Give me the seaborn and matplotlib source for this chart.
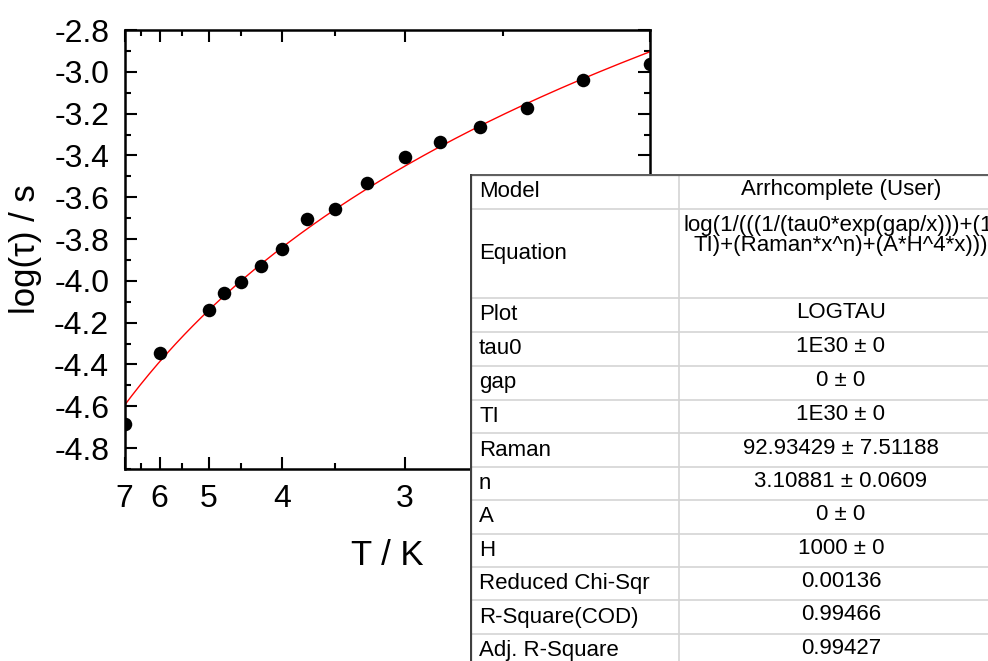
import numpy as np
import pandas as pd
import matplotlib
matplotlib.use("Agg")
import matplotlib.pyplot as plt
import seaborn as sns
from matplotlib.ticker import FixedLocator, MultipleLocator, FormatStrFormatter

# measured relaxation times
temperature_K = [7, 6, 5, 4.75, 4.5, 4.25, 4, 3.75, 3.5, 3.25, 3, 2.8, 2.6, 2.4, 2.2, 2.0]
log_tau = [-4.686, -4.347, -4.140, -4.060, -4.004, -3.929, -3.849, -3.706,
           -3.656, -3.530, -3.406, -3.334, -3.263, -3.175, -3.039, -2.963]

# fit parameters (from the fit report)
tau0 = 1e30
gap = 0.0
TI = 1e30
raman = 92.93429
n_exp = 3.10881
A = 0.0
H = 1000.0

major_T = [7, 6, 5, 4, 3, 2]
minor_T = [6.5, 5.5, 4.5, 3.5, 2.5]

table_labels = ["Model", "Equation", "Plot", "tau0", "gap", "TI", "Raman", "n", "A", "H",
                "Reduced Chi-Sqr", "R-Square(COD)", "Adj. R-Square"]
table_values = ["Arrhcomplete (User)", "", "LOGTAU", "1E30 ± 0", "0 ± 0", "1E30 ± 0",
                "92.93429 ± 7.51188", "3.10881 ± 0.0609", "0 ± 0", "1000 ± 0",
                "0.00136", "0.99466", "0.99427"]
equation_lines = ["log(1/(((1/(tau0*exp(gap/x)))+(1/", "TI)+(Raman*x^n)+(A*H^4*x)))"]

sns.set_style("ticks")
plt.rcParams['font.family'] = ['Liberation Sans', 'DejaVu Sans']
plt.rcParams['axes.unicode_minus'] = False
plt.rcParams['text.color'] = 'black'
plt.rcParams['axes.labelcolor'] = 'black'
plt.rcParams['xtick.color'] = 'black'
plt.rcParams['ytick.color'] = 'black'

W, Hpx = 988, 661
fig = plt.figure(figsize=(W / 100, Hpx / 100), dpi=100)
ax = fig.add_axes([124.5 / W, (Hpx - 469) / Hpx, (650 - 124.5) / W, (469 - 30) / Hpx])

df = pd.DataFrame({"invT": 1 / np.array(temperature_K), "logtau": log_tau})

# fit curve from the model and the parameters above
x_fit = np.linspace(1 / 7, 1 / 2, 300)
T_fit = 1 / x_fit
rate = 1 / (tau0 * np.exp(gap / T_fit)) + 1 / TI + raman * T_fit ** n_exp + A * H ** 4 * T_fit
fit_df = pd.DataFrame({"invT": x_fit, "logtau": np.log10(1 / rate)})

sns.lineplot(data=fit_df, x="invT", y="logtau", color="red", linewidth=1, ax=ax, zorder=2)
sns.scatterplot(data=df, x="invT", y="logtau", color="black", s=95, linewidth=0, ax=ax, zorder=3)

ax.set_xlim(1 / 7, 1 / 2)
ax.set_ylim(-4.9, -2.8)
ax.xaxis.set_major_locator(FixedLocator([1 / t for t in major_T]))
ax.xaxis.set_minor_locator(FixedLocator([1 / t for t in minor_T]))
ax.set_xticklabels([str(t) for t in major_T])
ax.yaxis.set_major_locator(MultipleLocator(0.2))
ax.yaxis.set_minor_locator(MultipleLocator(0.1))
ax.yaxis.set_major_formatter(FormatStrFormatter('%.1f'))

ax.tick_params(which='both', direction='in', top=True, right=True, width=1.5, color='black')
ax.tick_params(which='major', length=8.5, labelsize=23, pad=11)
ax.tick_params(which='minor', length=4.3)
for sp in ax.spines.values():
    sp.set_linewidth(1.8)
    sp.set_color('black')

ax.set_xlabel("T / K", fontsize=25, labelpad=18)
ax.set_ylabel("log(τ) / s", fontsize=25, labelpad=9)

# fit report table
tab = fig.add_axes([470 / W, 0, (W - 470) / W, (Hpx - 174) / Hpx])
tab.set_xlim(470, W)
tab.set_ylim(Hpx, 174)
tab.set_xticks([])
tab.set_yticks([])
for sp in tab.spines.values():
    sp.set_visible(False)
tab.set_facecolor('white')

row_edges = [174, 209, 298, 332, 366, 399.5, 433, 467, 500, 533.5, 567, 600, 634, 667]
col_split = 679
val_center = 841
grid_c = '#d4d4d4'

for y in row_edges[1:]:
    tab.plot([470, W], [y, y], color=grid_c, lw=1.2)
tab.plot([col_split, col_split], [174, Hpx], color=grid_c, lw=1.2)
tab.plot([471, W], [175, 175], color='#606060', lw=1.6)
tab.plot([471, 471], [174, Hpx], color='#404040', lw=1.6)

for i, (lab, val) in enumerate(zip(table_labels, table_values)):
    yc = (row_edges[i] + row_edges[i + 1]) / 2
    tab.text(479, yc, lab, fontsize=16, ha='left', va='center')
    if val:
        tab.text(val_center, yc - 2, val, fontsize=16, ha='center', va='center')

for k, line in enumerate(equation_lines):
    tab.text(val_center, 231.5 + 20 * k, line, fontsize=16, ha='center', va='baseline')

fig.savefig("out.png", dpi=100)
